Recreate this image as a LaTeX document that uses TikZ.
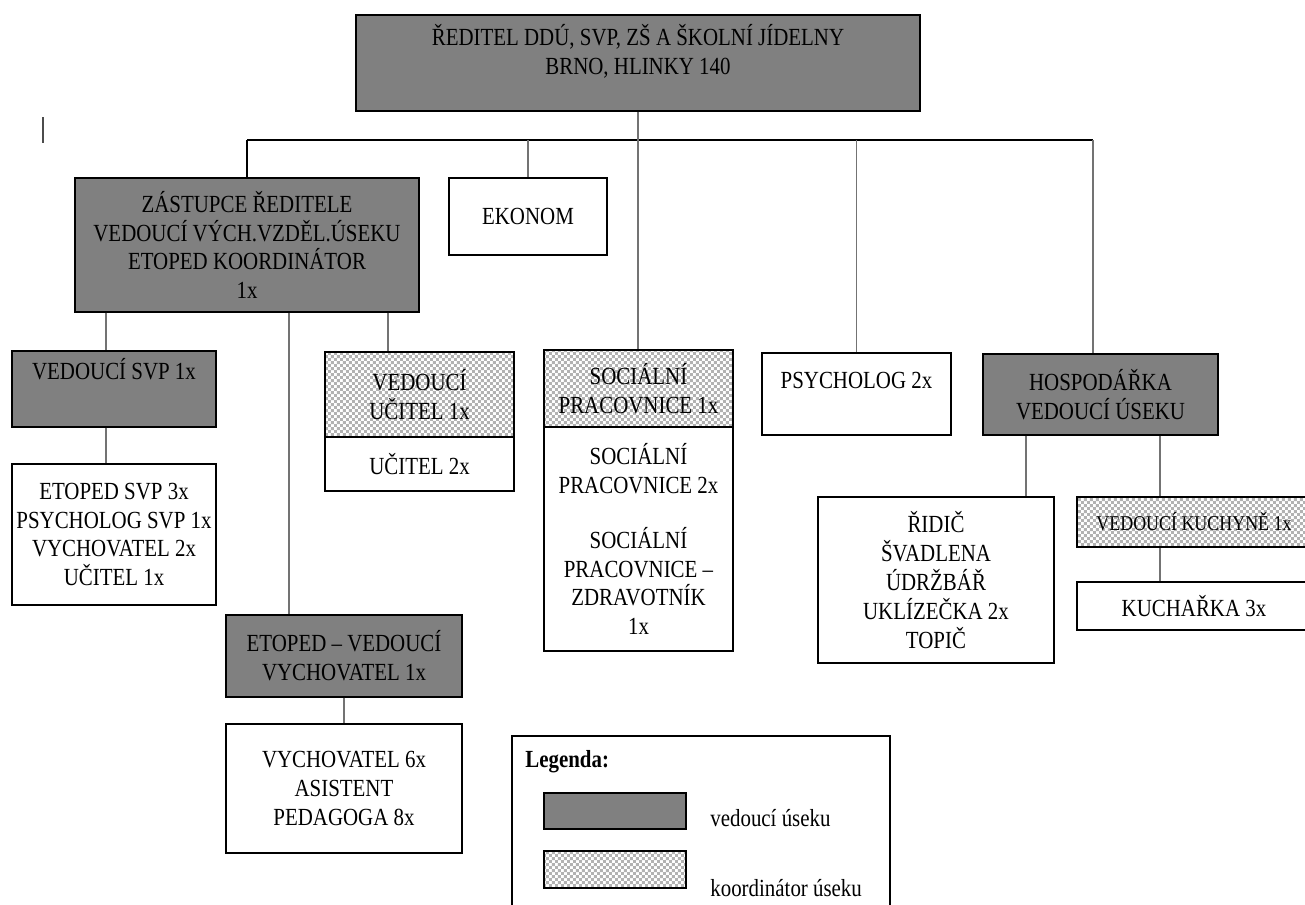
\documentclass[tikz,border=0pt]{standalone}
\usepackage{fontspec}
\setmainfont{Liberation Serif}[FakeStretch=0.85]
\usetikzlibrary{patterns}
\def\orgfont{\fontsize{14}{16.4}\selectfont}
\pgfdeclarepatterninherentlycolored{chequer}{\pgfpointorigin}{\pgfqpoint{3.4pt}{3.4pt}}{\pgfqpoint{3.4pt}{3.4pt}}{%
  \pgfsetfillcolor{white}
  \pgfpathrectangle{\pgfpointorigin}{\pgfqpoint{3.4pt}{3.4pt}}
  \pgfusepath{fill}
  \pgfsetfillcolor{black!30}
  \pgfpathrectangle{\pgfpointorigin}{\pgfqpoint{1.7pt}{1.7pt}}
  \pgfpathrectangle{\pgfqpoint{1.7pt}{1.7pt}}{\pgfqpoint{1.7pt}{1.7pt}}
  \pgfusepath{fill}}
\tikzset{
  box/.style={draw=black, line width=0.8pt, align=center, inner sep=1pt, font=\orgfont},
  dark/.style={box, fill=black!50},
  light/.style={box, fill=white},
  coord/.style={box, pattern=chequer},
  cell/.style 2 args={minimum width=#1*0.2mm, minimum height=#2*0.2mm},
  lift/.style={text depth=#1},
  wire/.style={draw=black!55, line width=0.8pt},
  bus/.style={draw=black, line width=0.8pt},
  legtext/.style={anchor=west, inner sep=0pt, font=\orgfont}
}
\begin{document}
\begin{tikzpicture}[x=0.02cm, y=-0.02cm]
			\useasboundingbox (0,0) rectangle (1305,904);
			\clip (0,0) rectangle (1305,904);
			
			%%%%% BOXES %%%%%
			\node[dark, cell={564}{96}, lift=15.2pt] (reditel) at (638,63) {ŘEDITEL DDÚ, SVP, ZŠ A ŠKOLNÍ JÍDELNY\\BRNO, HLINKY 140};
			
			\node[dark, cell={344}{134}] (zastupce) at (247,245) {ZÁSTUPCE ŘEDITELE\\VEDOUCÍ VÝCH.VZDĚL.ÚSEKU\\ETOPED KOORDINÁTOR\\1x};
			\node[light, cell={158}{77}] (ekonom) at (528,216.5) {EKONOM};
			
			\node[dark, cell={204}{76}, lift=22.6pt] (vedsvp) at (114,389) {VEDOUCÍ SVP 1x};
			\node[light, cell={204}{141}] (etopedsvp) at (114,534.5) {ETOPED SVP 3x\\PSYCHOLOG SVP 1x\\VYCHOVATEL 2x\\UČITEL 1x};
			
			\node[coord, cell={189}{85}] (veducitel) at (419.5,394.5) {VEDOUCÍ\\UČITEL 1x};
			\node[light, cell={189}{54}] (ucitel) at (419.5,464) {UČITEL 2x};
			
			\node[dark, cell={236}{82}] (etopedved) at (344,656) {ETOPED – VEDOUCÍ\\VYCHOVATEL 1x};
			\node[light, cell={236}{129}] (vychovatel) at (344,788.5) {VYCHOVATEL 6x\\ASISTENT\\PEDAGOGA 8x};
			
			\node[coord, cell={189}{77}] (soc) at (638.5,388.5) {SOCIÁLNÍ\\PRACOVNICE 1x};
			\node[light, cell={189}{224}] (socstaff) at (638.5,539) {SOCIÁLNÍ\\PRACOVNICE 2x\\[15pt]SOCIÁLNÍ\\PRACOVNICE –\\ZDRAVOTNÍK\\1x};
			
			\node[light, cell={189}{82}, lift=16.1pt] (psych) at (856.5,394) {PSYCHOLOG 2x};
			
			\node[dark, cell={235}{81}] (hosp) at (1100.5,394.5) {HOSPODÁŘKA\\VEDOUCÍ ÚSEKU};
			\node[light, cell={236}{166}] (ridic) at (936,580) {ŘIDIČ\\ŠVADLENA\\ÚDRŽBÁŘ\\UKLÍZEČKA 2x\\TOPIČ};
			\node[coord, cell={234}{50}, font=\fontsize{12}{14}\selectfont] (vedkuch) at (1194,522) {VEDOUCÍ KUCHYNĚ 1x};
			\node[light, cell={234}{48}] (kucharka) at (1194,606) {KUCHAŘKA 3x};
			
			%%%%% LINES %%%%%
			\coordinate (busL) at (247,140);
			\coordinate (busR) at (1093,140);
			\coordinate (tapSVP) at (106,0);
			\coordinate (tapVED) at (289,0);
			\coordinate (tapUC) at (388,0);
			\coordinate (tapRID) at (1026,0);
			\coordinate (tapKUCH) at (1160,0);
			
			\draw[bus] (busL) -- (busR);
			\draw[wire] (reditel.south) -- (reditel.south |- soc.north);
			\draw[bus] (busL) -- (zastupce.north);
			\draw[wire] (ekonom.north |- busL) -- (ekonom.north);
			\draw[wire] (psych.north |- busL) -- (psych.north);
			\draw[wire] (busR) -- (busR |- hosp.north);
			
			\draw[wire] (zastupce.south -| tapSVP) -- (vedsvp.north -| tapSVP);
			\draw[wire] (vedsvp.south -| tapSVP) -- (etopedsvp.north -| tapSVP);
			\draw[wire] (zastupce.south -| tapVED) -- (etopedved.north -| tapVED);
			\draw[wire] (zastupce.south -| tapUC) -- (veducitel.north -| tapUC);
			\draw[wire] (etopedved.south) -- (vychovatel.north);
			
			\draw[wire] (hosp.south -| tapRID) -- (ridic.north -| tapRID);
			\draw[wire] (hosp.south -| tapKUCH) -- (vedkuch.north -| tapKUCH);
			\draw[wire] (vedkuch.south -| tapKUCH) -- (kucharka.north -| tapKUCH);
			
			% stray mark top left
			\draw[line width=1.2pt, color=black!70] (43,117) -- (43,143);
			
			%%%%% LEGEND %%%%%
			\node[draw=black, line width=0.8pt, cell={378}{194}] (legend) at (701,833) {};
			\node[legtext, font=\orgfont\bfseries] (legtitle) at (525,762) {Legenda:};
			\node[dark, cell={142}{36}] (keydark) at (615,811) {};
			\node[legtext] (keydarktext) at (710,818) {vedoucí úseku};
			\node[coord, cell={142}{37}] (keycoord) at (615,869.5) {};
			\node[legtext] (keycoordtext) at (710,888) {koordinátor úseku};
\end{tikzpicture}
\end{document}
